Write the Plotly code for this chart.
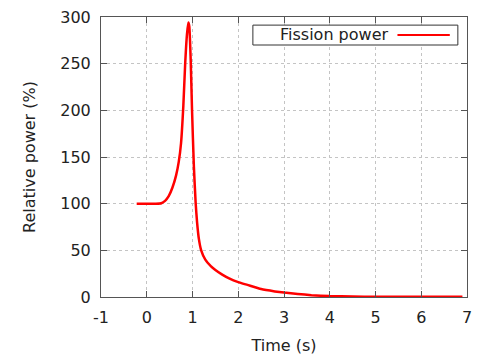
import plotly.graph_objects as go

time_s = [-0.22, 0.0, 0.2, 0.32, 0.4, 0.48, 0.56, 0.64, 0.70, 0.75, 0.80, 0.84, 0.88, 0.91, 0.93, 0.96, 0.99, 1.03, 1.07, 1.10, 1.14, 1.19, 1.28, 1.4, 1.5, 1.65, 1.8, 2.0, 2.2, 2.5, 2.8, 3.0, 3.3, 3.6, 4.0, 4.5, 5.0, 6.0, 6.9]
power_pct = [100, 100, 100, 100.5, 103, 108, 117, 130, 145, 165, 205, 250, 282, 294, 290, 255, 200, 140, 100, 80, 62, 50, 40, 33, 29, 24, 20, 16, 13, 8.5, 6, 4.7, 3.2, 2.0, 1.0, 0.5, 0.3, 0.2, 0.2]
series_name = "Fission power"
x_ticks = [-1, 0, 1, 2, 3, 4, 5, 6, 7]
x_tick_text = ["-1", "0", "1", "2", "3", "4", "5", "6", "7"]
y_ticks = [0, 50, 100, 150, 200, 250, 300]

FONT = "DejaVu Sans"
TXT = "#222222"
fig = go.Figure()
fig.add_trace(go.Scatter(x=time_s, y=power_pct, mode="lines", name=series_name,
                         line=dict(color="#ff0000", width=2.5, shape="spline", smoothing=0.5),
                         showlegend=False))

axis_common = dict(showgrid=True, gridcolor="#c4c4c4", griddash="dot", gridwidth=1,
                   showline=True, linecolor="#555555", linewidth=1, mirror="ticks",
                   ticks="inside", ticklen=6, tickcolor="#555555", zeroline=False,
                   automargin=False,
                   tickfont=dict(family=FONT, size=16, color=TXT))
fig.update_xaxes(range=[-1, 7], tickvals=x_ticks, ticktext=x_tick_text, ticklabelstandoff=6,
                 title=dict(text="Time (s)", font=dict(family=FONT, size=16, color=TXT), standoff=14),
                 **axis_common)
fig.update_yaxes(range=[0, 300], tickvals=y_ticks, ticklabelstandoff=6,
                 title=dict(text="Relative power (%)", font=dict(family=FONT, size=16, color=TXT), standoff=20),
                 **axis_common)

# gnuplot-style key: text then line sample, in a box
fig.add_shape(type="rect", xref="paper", yref="paper", x0=0.415, x1=0.975, y0=0.9, y1=0.971,
              line=dict(color="#333333", width=1), fillcolor="white", layer="above")
fig.add_annotation(xref="paper", yref="paper", x=0.79, y=0.936, text=series_name, showarrow=False,
                   xanchor="right", yanchor="middle", font=dict(family=FONT, size=16, color=TXT))
fig.add_shape(type="line", xref="paper", yref="paper", x0=0.81, x1=0.953, y0=0.936, y1=0.936,
              line=dict(color="#ff0000", width=2), layer="above")

fig.update_layout(width=484, height=355, margin=dict(l=101, r=17, t=17, b=58),
                  plot_bgcolor="white", paper_bgcolor="white")
fig.write_html("out.html")
